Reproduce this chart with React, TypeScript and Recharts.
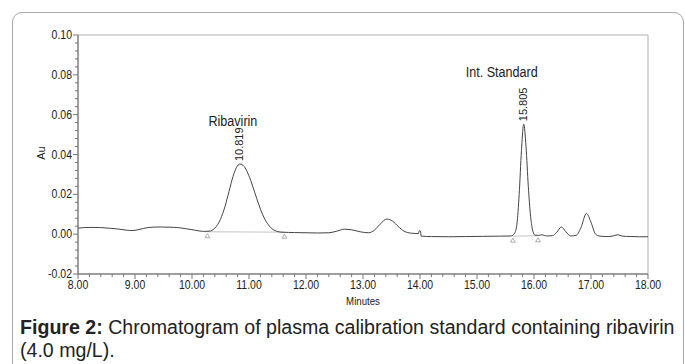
import React from "react";
import { LineChart, Line, XAxis, YAxis, ReferenceArea, ReferenceDot } from "recharts";

// retention time (min) and absorbance (AU)
const minutes = [
  8.0, 8.1, 8.25, 8.4, 8.55, 8.7, 8.85, 8.95, 9.05, 9.15, 9.3, 9.45, 9.6, 9.75, 9.9, 10.05,
  10.2, 10.3, 10.4, 10.5, 10.58, 10.65, 10.72, 10.78, 10.84, 10.9, 10.96, 11.03, 11.1, 11.17,
  11.24, 11.32, 11.4, 11.48, 11.58, 11.8, 12.0, 12.2, 12.4, 12.55, 12.67, 12.8, 12.95, 13.1,
  13.2, 13.3, 13.42, 13.52, 13.62, 13.72, 13.85, 13.97, 13.99, 14.01, 14.02, 14.2, 14.5, 14.8,
  15.1, 15.4, 15.6, 15.66, 15.7, 15.74, 15.78, 15.82, 15.86, 15.9, 15.94, 15.98, 16.02, 16.08,
  16.14, 16.22, 16.32, 16.4, 16.48, 16.56, 16.64, 16.74, 16.82, 16.92, 17.0, 17.08, 17.16,
  17.3, 17.4, 17.47, 17.55, 17.7, 17.85, 18.0,
];
const au = [
  0.003, 0.0033, 0.0034, 0.0033, 0.003, 0.0026, 0.002, 0.0018, 0.0022, 0.0029, 0.0035, 0.0036,
  0.0035, 0.0033, 0.0027, 0.002, 0.0014, 0.0015, 0.003, 0.0075, 0.014, 0.0215, 0.029, 0.0335,
  0.0352, 0.0345, 0.0318, 0.027, 0.021, 0.015, 0.0098, 0.0055, 0.0028, 0.0015, 0.001, 0.0008,
  0.0007, 0.0006, 0.0007, 0.0016, 0.0025, 0.0022, 0.0012, 0.0007, 0.002, 0.005, 0.0076, 0.0065,
  0.0038, 0.0015, 0.0005, 0.0003, 0.0018, 0.0015, -0.001, -0.0012, -0.0013, -0.0012, -0.0011,
  -0.001, -0.0009, 0.0005, 0.005, 0.02, 0.042, 0.0552, 0.044, 0.024, 0.009, 0.0015, -0.0005,
  -0.0006, -0.0003, -0.0009, -0.0008, 0.001, 0.0036, 0.0012, -0.0009, -0.0006, 0.003, 0.0104,
  0.006, 0.0, -0.001, -0.0012, -0.0008, -0.0003, -0.001, -0.0012, -0.0013, -0.0013,
];

// integration baselines under the two named peaks
const ribaBase = [
  { t: 10.27, v: 0.0012 },
  { t: 11.62, v: 0.001 },
];
const istdBase = [
  { t: 15.63, v: -0.001 },
  { t: 16.07, v: -0.0008 },
];

const peaks = [
  { name: "Ribavirin", rt: "10.819", t: 10.84, v: 0.0352, dx: -7, dy: -38 },
  { name: "Int. Standard", rt: "15.805", t: 15.82, v: 0.0552, dx: -22, dy: -47 },
];

const xTicks = Array.from({ length: 51 }, (_, i) => Math.round((8 + i * 0.2) * 100) / 100);
const yTicks = Array.from({ length: 31 }, (_, i) => Math.round((-0.02 + i * 0.004) * 1000) / 1000);

const data = minutes.map((t, i) => ({ t, v: au[i] }));

const sans = "'Liberation Sans', Arial, sans-serif";
const squeeze = 0.84; // the plot text is a condensed face

const XTick = (props: any) => {
  const { x, y, payload } = props;
  const val = payload.value as number;
  const major = Math.abs(val - Math.round(val)) < 1e-6;
  return (
    <g>
      <line x1={x} x2={x} y1={y} y2={y + (major ? 5 : 3)} stroke="#777" />
      {major && (
        <text
          transform={`translate(${x},${y + 15}) scale(${squeeze},1)`}
          textAnchor="middle"
          fontSize={12.5}
          fontFamily={sans}
          fill="#222"
        >
          {val.toFixed(2)}
        </text>
      )}
    </g>
  );
};

const YTick = (props: any) => {
  const { x, y, payload } = props;
  const val = payload.value as number;
  const major = Math.abs(val * 50 - Math.round(val * 50)) < 1e-6;
  return (
    <g>
      <line x1={x} x2={x - (major ? 5 : 3)} y1={y} y2={y} stroke="#777" />
      {major && (
        <text
          transform={`translate(${x - 6},${y + 4}) scale(${squeeze},1)`}
          textAnchor="end"
          fontSize={12.5}
          fontFamily={sans}
          fill="#222"
        >
          {val.toFixed(2)}
        </text>
      )}
    </g>
  );
};

const Tri = (props: any) => {
  const { cx, cy } = props;
  return (
    <polygon
      points={`${cx - 2.5},${cy + 6} ${cx + 2.5},${cy + 6} ${cx},${cy + 2}`}
      fill="none"
      stroke="#999"
      strokeWidth={0.8}
    />
  );
};

export default function App() {
  return (
    <div style={{ position: "absolute", left: 0, top: 0, width: 685, height: 364, overflow: "hidden", background: "#fff" }}>
      <div
        style={{
          position: "absolute",
          left: 12,
          top: 12,
          width: 670,
          height: 380,
          border: "1px solid #a8a8a8",
          borderRadius: 10,
        }}
      />
      <div style={{ position: "absolute", left: 0, top: 0 }}>
        <LineChart width={685} height={310} data={data} margin={{ top: 35, right: 37, left: 38, bottom: 6 }}>
          <XAxis
            dataKey="t"
            type="number"
            domain={[8, 18]}
            ticks={xTicks}
            interval={0}
            tick={<XTick />}
            tickLine={false}
            tickSize={0}
            tickMargin={0}
            height={30}
            stroke="#666"
            allowDataOverflow
          />
          <YAxis
            type="number"
            domain={[-0.02, 0.1]}
            ticks={yTicks}
            interval={0}
            tick={<YTick />}
            tickLine={false}
            tickSize={0}
            tickMargin={0}
            width={40}
            stroke="#666"
            allowDataOverflow
          />
          <ReferenceArea x1={8} x2={18} y1={-0.02} y2={0.1} fill="none" stroke="#b0b0b0" strokeWidth={1} />
          <Line data={ribaBase} dataKey="v" type="linear" stroke="#c4c4c4" strokeWidth={1} dot={false} isAnimationActive={false} />
          <Line data={istdBase} dataKey="v" type="linear" stroke="#c4c4c4" strokeWidth={1} dot={false} isAnimationActive={false} />
          <Line dataKey="v" type="monotone" stroke="#444" strokeWidth={1} dot={false} isAnimationActive={false} />
          {[...ribaBase, ...istdBase].map((p, i) => (
            <ReferenceDot key={"tri" + i} x={p.t} y={p.v} r={0} shape={<Tri />} />
          ))}
          {peaks.map((p) => (
            <ReferenceDot
              key={p.name}
              x={p.t}
              y={p.v}
              r={0}
              shape={(s: any) => (
                <g>
                  <text
                    x={s.cx}
                    y={s.cy - 3}
                    transform={`rotate(-90 ${s.cx} ${s.cy - 3})`}
                    fontSize={11}
                    fontFamily={sans}
                    fill="#222"
                    textAnchor="start"
                    dominantBaseline="middle"
                  >
                    {p.rt}
                  </text>
                  <text
                    transform={`translate(${s.cx + p.dx},${s.cy + p.dy}) scale(${squeeze},1)`}
                    fontSize={15}
                    fontFamily={sans}
                    fill="#222"
                    textAnchor="middle"
                  >
                    {p.name}
                  </text>
                </g>
              )}
            />
          ))}
        </LineChart>
      </div>
      <div
        style={{
          position: "absolute",
          left: 41,
          top: 153,
          transform: "translate(-50%, -50%) rotate(-90deg)",
          fontFamily: sans,
          fontSize: 11,
          color: "#222",
        }}
      >
        Au
      </div>
      <div
        style={{
          position: "absolute",
          left: 363,
          top: 301,
          transform: `translate(-50%, -50%) scaleX(${squeeze})`,
          fontFamily: sans,
          fontSize: 11.5,
          color: "#222",
        }}
      >
        Minutes
      </div>
      <div
        style={{
          position: "absolute",
          left: 20,
          top: 316,
          width: 670,
          fontFamily: sans,
          fontSize: 19.6,
          lineHeight: "23px",
          color: "#222",
        }}
      >
        <span style={{ fontWeight: "bold" }}>Figure 2:</span>
        <span> Chromatogram of plasma calibration standard containing ribavirin (4.0 mg/L).</span>
      </div>
    </div>
  );
}
